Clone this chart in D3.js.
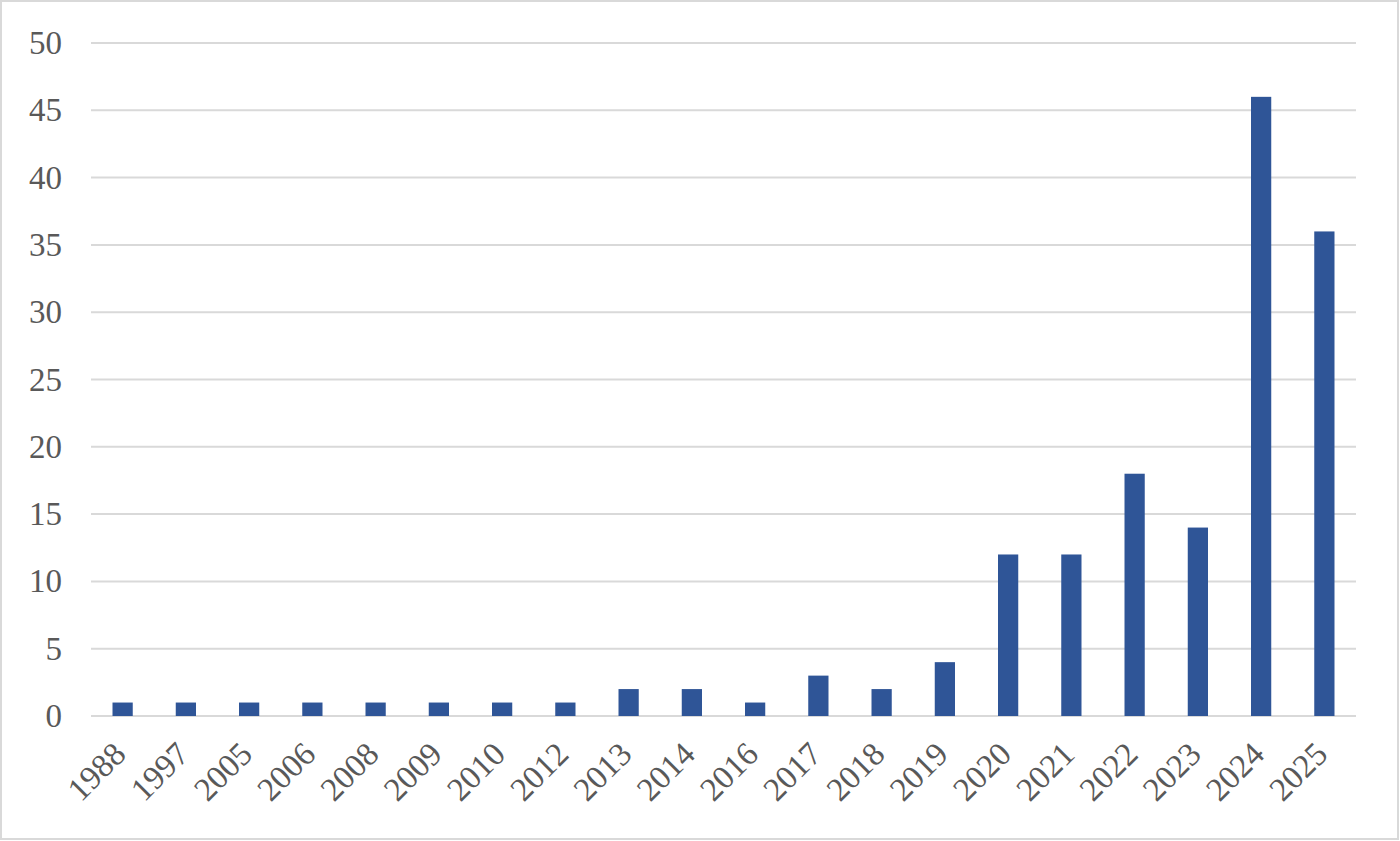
<!DOCTYPE html>
<html>
<head>
<meta charset="utf-8">
<script src="https://cdn.jsdelivr.net/npm/d3@7"></script>
<style>
  html, body { margin: 0; padding: 0; background: #fff; }
  svg { display: block; }
</style>
</head>
<body>
<svg id="chart"></svg>
<script>
const years = ['1988', '1997', '2005', '2006', '2008', '2009', '2010', '2012', '2013', '2014',
               '2016', '2017', '2018', '2019', '2020', '2021', '2022', '2023', '2024', '2025'];
const counts = [1, 1, 1, 1, 1, 1, 1, 1, 2, 2, 1, 3, 2, 4, 12, 12, 18, 14, 46, 36];
const yTicks = [0, 5, 10, 15, 20, 25, 30, 35, 40, 45, 50];

const W = 1400, H = 841;
const margin = { top: 43, right: 44, bottom: 125, left: 91 };
const width = W - margin.left - margin.right;
const height = H - margin.top - margin.bottom;

const svg = d3.select('#chart').attr('width', W).attr('height', H);

// outer frame
svg.append('rect')
  .attr('x', 1).attr('y', 1)
  .attr('width', W - 3).attr('height', H - 3)
  .attr('fill', '#fff')
  .attr('stroke', '#d9d9d9')
  .attr('stroke-width', 2);

const g = svg.append('g').attr('transform', `translate(${margin.left},${margin.top})`);

const x = d3.scaleBand().domain(years).range([0, width]).paddingInner(0.68).paddingOuter(0.34);
const y = d3.scaleLinear().domain([0, 50]).range([height, 0]);

// gridlines
g.append('g')
  .selectAll('line')
  .data(yTicks)
  .enter().append('line')
  .attr('x1', 0).attr('x2', width)
  .attr('y1', d => y(d)).attr('y2', d => y(d))
  .attr('stroke', '#d9d9d9')
  .attr('stroke-width', 2);

// y axis labels
const yAxis = g.append('g')
  .call(d3.axisLeft(y).tickValues(yTicks).tickSize(0).tickPadding(29));
yAxis.select('.domain').remove();
yAxis.selectAll('text')
  .style('font-family', '"Liberation Serif", "Times New Roman", serif')
  .style('font-size', '33px')
  .attr('fill', '#595959');

// bars
g.selectAll('.bar')
  .data(years)
  .enter().append('rect')
  .attr('class', 'bar')
  .attr('x', d => x(d))
  .attr('width', x.bandwidth())
  .attr('y', (d, i) => y(counts[i]))
  .attr('height', (d, i) => y(0) - y(counts[i]))
  .attr('fill', '#2f5597');

// x axis labels
const xAxis = g.append('g')
  .attr('transform', `translate(0,${height})`)
  .call(d3.axisBottom(x).tickSize(0).tickPadding(0));
xAxis.select('.domain').remove();
xAxis.selectAll('text')
  .style('font-family', '"Liberation Serif", "Times New Roman", serif')
  .style('font-size', '33px')
  .attr('fill', '#595959')
  .attr('text-anchor', 'end')
  .attr('dy', null)
  .attr('y', 0)
  .attr('transform', 'translate(5,40) rotate(-45)');
</script>
</body>
</html>
